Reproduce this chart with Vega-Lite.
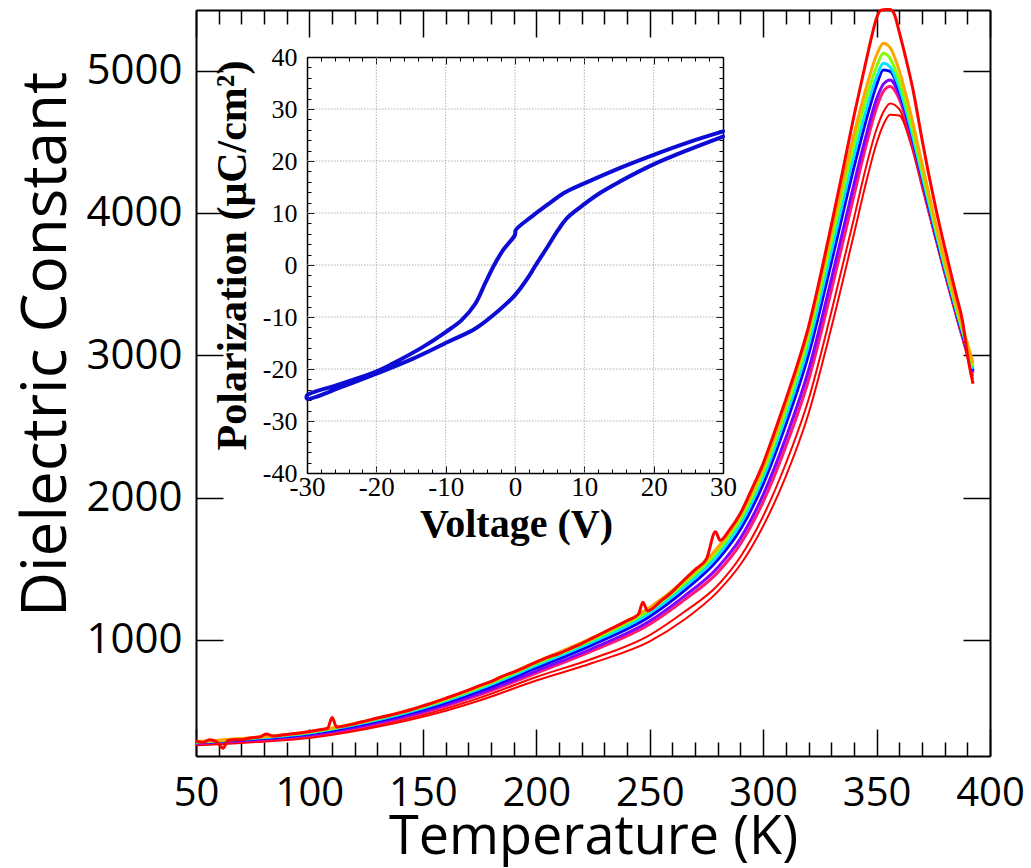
{
  "$schema": "https://vega.github.io/schema/vega-lite/v6.json",
  "width": 794,
  "height": 746,
  "autosize": "none",
  "padding": {"left": 196, "top": 10, "right": 41, "bottom": 112},
  "background": "white",
  "config": {
    "view": {"stroke": null},
    "axis": {"grid": false, "domainColor": "#000000", "tickColor": "#000000", "labelColor": "#000000", "titleColor": "#000000", "labelOverlap": false, "labelBound": false}
  },
  "datasets": {
    "main": [
      {"s":"r3","T":50,"e":260},{"s":"r3","T":75,"e":282},{"s":"r3","T":100,"e":312},{"s":"r3","T":125,"e":375},{"s":"r3","T":150,"e":460},{"s":"r3","T":175,"e":575},{"s":"r3","T":200,"e":715},{"s":"r3","T":225,"e":840},{"s":"r3","T":250,"e":990},{"s":"r3","T":265,"e":1140},{"s":"r3","T":280,"e":1340},{"s":"r3","T":290,"e":1530},{"s":"r3","T":300,"e":1800},{"s":"r3","T":310,"e":2150},{"s":"r3","T":320,"e":2590},{"s":"r3","T":330,"e":3190},{"s":"r3","T":340,"e":3850},{"s":"r3","T":345,"e":4190},{"s":"r3","T":350,"e":4490},{"s":"r3","T":353,"e":4620},{"s":"r3","T":356,"e":4690},{"s":"r3","T":360,"e":4685},{"s":"r3","T":365,"e":4490},{"s":"r3","T":370,"e":4185},{"s":"r3","T":375,"e":3875},{"s":"r3","T":380,"e":3570},{"s":"r3","T":385,"e":3275},{"s":"r3","T":390,"e":2990},{"s":"r3","T":392.5,"e":2830},
      {"s":"r2","T":50,"e":266},{"s":"r2","T":75,"e":288},{"s":"r2","T":100,"e":320},{"s":"r2","T":125,"e":385},{"s":"r2","T":150,"e":473},{"s":"r2","T":175,"e":593},{"s":"r2","T":200,"e":740},{"s":"r2","T":225,"e":870},{"s":"r2","T":250,"e":1035},{"s":"r2","T":265,"e":1195},{"s":"r2","T":280,"e":1385},{"s":"r2","T":290,"e":1585},{"s":"r2","T":300,"e":1870},{"s":"r2","T":310,"e":2240},{"s":"r2","T":320,"e":2690},{"s":"r2","T":330,"e":3300},{"s":"r2","T":340,"e":3960},{"s":"r2","T":345,"e":4300},{"s":"r2","T":350,"e":4590},{"s":"r2","T":353,"e":4710},{"s":"r2","T":356,"e":4770},{"s":"r2","T":360,"e":4730},{"s":"r2","T":365,"e":4510},{"s":"r2","T":370,"e":4200},{"s":"r2","T":375,"e":3885},{"s":"r2","T":380,"e":3580},{"s":"r2","T":385,"e":3285},{"s":"r2","T":390,"e":3005},{"s":"r2","T":392.5,"e":2855},
      {"s":"k","T":50,"e":272},{"s":"k","T":75,"e":295},{"s":"k","T":100,"e":329},{"s":"k","T":125,"e":396},{"s":"k","T":150,"e":488},{"s":"k","T":175,"e":614},{"s":"k","T":200,"e":768},{"s":"k","T":225,"e":925},{"s":"k","T":250,"e":1110},{"s":"k","T":265,"e":1278},{"s":"k","T":280,"e":1475},{"s":"k","T":290,"e":1675},{"s":"k","T":300,"e":1970},{"s":"k","T":310,"e":2360},{"s":"k","T":320,"e":2825},{"s":"k","T":330,"e":3450},{"s":"k","T":340,"e":4120},{"s":"k","T":345,"e":4450},{"s":"k","T":350,"e":4740},{"s":"k","T":353,"e":4855},{"s":"k","T":356,"e":4888},{"s":"k","T":360,"e":4800},{"s":"k","T":365,"e":4545},{"s":"k","T":370,"e":4225},{"s":"k","T":375,"e":3900},{"s":"k","T":380,"e":3590},{"s":"k","T":385,"e":3295},{"s":"k","T":390,"e":3015},{"s":"k","T":392.5,"e":2875},
      {"s":"p","T":50,"e":275},{"s":"p","T":75,"e":299},{"s":"p","T":100,"e":334},{"s":"p","T":125,"e":403},{"s":"p","T":150,"e":497},{"s":"p","T":175,"e":625},{"s":"p","T":200,"e":782},{"s":"p","T":225,"e":942},{"s":"p","T":250,"e":1133},{"s":"p","T":265,"e":1305},{"s":"p","T":280,"e":1510},{"s":"p","T":290,"e":1715},{"s":"p","T":300,"e":2020},{"s":"p","T":310,"e":2420},{"s":"p","T":320,"e":2895},{"s":"p","T":330,"e":3530},{"s":"p","T":340,"e":4200},{"s":"p","T":345,"e":4520},{"s":"p","T":350,"e":4800},{"s":"p","T":353,"e":4905},{"s":"p","T":356,"e":4935},{"s":"p","T":360,"e":4830},{"s":"p","T":365,"e":4565},{"s":"p","T":370,"e":4240},{"s":"p","T":375,"e":3910},{"s":"p","T":380,"e":3600},{"s":"p","T":385,"e":3305},{"s":"p","T":390,"e":3025},{"s":"p","T":392.5,"e":2885},
      {"s":"b","T":50,"e":279},{"s":"b","T":75,"e":304},{"s":"b","T":100,"e":341},{"s":"b","T":125,"e":413},{"s":"b","T":150,"e":511},{"s":"b","T":175,"e":643},{"s":"b","T":200,"e":804},{"s":"b","T":225,"e":968},{"s":"b","T":250,"e":1165},{"s":"b","T":265,"e":1343},{"s":"b","T":280,"e":1563},{"s":"b","T":290,"e":1778},{"s":"b","T":300,"e":2095},{"s":"b","T":310,"e":2515},{"s":"b","T":320,"e":3005},{"s":"b","T":330,"e":3650},{"s":"b","T":340,"e":4320},{"s":"b","T":345,"e":4630},{"s":"b","T":350,"e":4900},{"s":"b","T":353,"e":5005},{"s":"b","T":356,"e":4995},{"s":"b","T":360,"e":4860},{"s":"b","T":365,"e":4585},{"s":"b","T":370,"e":4255},{"s":"b","T":375,"e":3920},{"s":"b","T":380,"e":3610},{"s":"b","T":385,"e":3315},{"s":"b","T":390,"e":3035},{"s":"b","T":392.5,"e":2895},
      {"s":"c","T":50,"e":281},{"s":"c","T":75,"e":308},{"s":"c","T":100,"e":347},{"s":"c","T":125,"e":421},{"s":"c","T":150,"e":522},{"s":"c","T":175,"e":657},{"s":"c","T":200,"e":821},{"s":"c","T":225,"e":988},{"s":"c","T":250,"e":1190},{"s":"c","T":265,"e":1370},{"s":"c","T":280,"e":1595},{"s":"c","T":290,"e":1815},{"s":"c","T":300,"e":2140},{"s":"c","T":310,"e":2570},{"s":"c","T":320,"e":3070},{"s":"c","T":330,"e":3725},{"s":"c","T":340,"e":4400},{"s":"c","T":345,"e":4700},{"s":"c","T":350,"e":4955},{"s":"c","T":353,"e":5052},{"s":"c","T":356,"e":5025},{"s":"c","T":360,"e":4880},{"s":"c","T":365,"e":4600},{"s":"c","T":370,"e":4270},{"s":"c","T":375,"e":3935},{"s":"c","T":380,"e":3620},{"s":"c","T":385,"e":3325},{"s":"c","T":390,"e":3045},{"s":"c","T":392.5,"e":2905},
      {"s":"g","T":50,"e":283},{"s":"g","T":75,"e":312},{"s":"g","T":100,"e":352},{"s":"g","T":125,"e":428},{"s":"g","T":150,"e":530},{"s":"g","T":175,"e":668},{"s":"g","T":200,"e":835},{"s":"g","T":225,"e":1005},{"s":"g","T":250,"e":1210},{"s":"g","T":265,"e":1395},{"s":"g","T":280,"e":1625},{"s":"g","T":290,"e":1850},{"s":"g","T":300,"e":2180},{"s":"g","T":310,"e":2620},{"s":"g","T":320,"e":3130},{"s":"g","T":330,"e":3800},{"s":"g","T":340,"e":4480},{"s":"g","T":345,"e":4780},{"s":"g","T":350,"e":5030},{"s":"g","T":353,"e":5122},{"s":"g","T":356,"e":5085},{"s":"g","T":360,"e":4930},{"s":"g","T":365,"e":4640},{"s":"g","T":370,"e":4300},{"s":"g","T":375,"e":3960},{"s":"g","T":380,"e":3640},{"s":"g","T":385,"e":3340},{"s":"g","T":390,"e":3060},{"s":"g","T":392.5,"e":2920},
      {"s":"o","T":50,"e":286},{"s":"o","T":75,"e":315},{"s":"o","T":100,"e":356},{"s":"o","T":125,"e":432},{"s":"o","T":150,"e":536},{"s":"o","T":175,"e":676},{"s":"o","T":200,"e":846},{"s":"o","T":225,"e":1018},{"s":"o","T":250,"e":1228},{"s":"o","T":265,"e":1416},{"s":"o","T":280,"e":1650},{"s":"o","T":290,"e":1880},{"s":"o","T":300,"e":2215},{"s":"o","T":310,"e":2660},{"s":"o","T":320,"e":3180},{"s":"o","T":330,"e":3860},{"s":"o","T":340,"e":4550},{"s":"o","T":345,"e":4855},{"s":"o","T":350,"e":5110},{"s":"o","T":353,"e":5193},{"s":"o","T":356,"e":5160},{"s":"o","T":360,"e":5000},{"s":"o","T":365,"e":4700},{"s":"o","T":370,"e":4350},{"s":"o","T":375,"e":4000},{"s":"o","T":380,"e":3670},{"s":"o","T":385,"e":3370},{"s":"o","T":390,"e":3085},{"s":"o","T":392.5,"e":2945},
      {"s":"r1","T":50,"e":290},{"s":"r1","T":53,"e":280},{"s":"r1","T":56,"e":300},{"s":"r1","T":59,"e":285},{"s":"r1","T":62,"e":240},{"s":"r1","T":64,"e":292},{"s":"r1","T":67,"e":300},{"s":"r1","T":70,"e":300},{"s":"r1","T":74,"e":312},{"s":"r1","T":78,"e":318},{"s":"r1","T":81,"e":340},{"s":"r1","T":84,"e":325},{"s":"r1","T":88,"e":332},{"s":"r1","T":92,"e":340},{"s":"r1","T":96,"e":347},{"s":"r1","T":100,"e":357},{"s":"r1","T":104,"e":368},{"s":"r1","T":108,"e":380},{"s":"r1","T":110,"e":455},{"s":"r1","T":112,"e":388},{"s":"r1","T":116,"e":398},{"s":"r1","T":120,"e":412},{"s":"r1","T":125,"e":432},{"s":"r1","T":130,"e":452},{"s":"r1","T":135,"e":470},{"s":"r1","T":140,"e":490},{"s":"r1","T":145,"e":512},{"s":"r1","T":150,"e":537},{"s":"r1","T":155,"e":562},{"s":"r1","T":160,"e":590},{"s":"r1","T":165,"e":618},{"s":"r1","T":170,"e":648},{"s":"r1","T":175,"e":680},{"s":"r1","T":180,"e":708},{"s":"r1","T":185,"e":745},{"s":"r1","T":190,"e":775},{"s":"r1","T":195,"e":808},{"s":"r1","T":200,"e":845},{"s":"r1","T":205,"e":878},{"s":"r1","T":210,"e":905},{"s":"r1","T":215,"e":940},{"s":"r1","T":220,"e":975},{"s":"r1","T":225,"e":1015},{"s":"r1","T":230,"e":1055},{"s":"r1","T":235,"e":1095},{"s":"r1","T":240,"e":1135},{"s":"r1","T":245,"e":1180},{"s":"r1","T":247,"e":1265},{"s":"r1","T":249,"e":1205},{"s":"r1","T":255,"e":1275},{"s":"r1","T":260,"e":1340},{"s":"r1","T":265,"e":1420},{"s":"r1","T":270,"e":1495},{"s":"r1","T":275,"e":1570},{"s":"r1","T":279,"e":1760},{"s":"r1","T":281,"e":1700},{"s":"r1","T":285,"e":1770},{"s":"r1","T":290,"e":1890},{"s":"r1","T":295,"e":2060},{"s":"r1","T":300,"e":2240},{"s":"r1","T":305,"e":2460},{"s":"r1","T":310,"e":2690},{"s":"r1","T":315,"e":2930},{"s":"r1","T":320,"e":3200},{"s":"r1","T":325,"e":3540},{"s":"r1","T":330,"e":3910},{"s":"r1","T":335,"e":4290},{"s":"r1","T":340,"e":4680},{"s":"r1","T":345,"e":5040},{"s":"r1","T":348,"e":5250},{"s":"r1","T":350,"e":5370},{"s":"r1","T":352,"e":5425},{"s":"r1","T":354,"e":5430},{"s":"r1","T":356,"e":5430},{"s":"r1","T":358,"e":5390},{"s":"r1","T":360,"e":5270},{"s":"r1","T":363,"e":5080},{"s":"r1","T":366,"e":4870},{"s":"r1","T":370,"e":4520},{"s":"r1","T":373,"e":4270},{"s":"r1","T":376,"e":4040},{"s":"r1","T":380,"e":3760},{"s":"r1","T":385,"e":3430},{"s":"r1","T":388,"e":3230},{"s":"r1","T":390,"e":3010},{"s":"r1","T":392.5,"e":2800}
    ],
    "loop": [
      {"i":1,"V":30,"P":25.7},{"i":2,"V":25,"P":23.6},{"i":3,"V":20,"P":21.2},{"i":4,"V":15,"P":18.6},{"i":5,"V":10,"P":15.7},{"i":6,"V":7,"P":13.8},{"i":7,"V":5,"P":11.9},{"i":8,"V":2.5,"P":9.4},{"i":9,"V":0.1,"P":6.7},{"i":10,"V":0,"P":5.8},{"i":11,"V":-1.7,"P":2.9},{"i":12,"V":-3,"P":0},{"i":13,"V":-4.3,"P":-3.5},{"i":14,"V":-5.7,"P":-7.4},{"i":15,"V":-7.7,"P":-10.6},{"i":16,"V":-10,"P":-12.9},{"i":17,"V":-13.2,"P":-15.7},{"i":18,"V":-17.7,"P":-19},{"i":19,"V":-20.2,"P":-20.6},{"i":20,"V":-25.7,"P":-23.1},{"i":21,"V":-30,"P":-25.1},{"i":22,"V":-30,"P":-25.7},
      {"i":23,"V":-24.7,"P":-23.3},{"i":24,"V":-20,"P":-20.9},{"i":25,"V":-14.7,"P":-18},{"i":26,"V":-9.7,"P":-14.8},{"i":27,"V":-5.7,"P":-12.2},{"i":28,"V":-2.3,"P":-8.7},{"i":29,"V":0,"P":-5.8},{"i":30,"V":2,"P":-2.2},{"i":31,"V":3,"P":0},{"i":32,"V":4.7,"P":3.5},{"i":33,"V":6.2,"P":6.7},{"i":34,"V":7.5,"P":9},{"i":35,"V":9.2,"P":10.9},{"i":36,"V":12.2,"P":13.8},{"i":37,"V":15.2,"P":16.1},{"i":38,"V":19.9,"P":19.3},{"i":39,"V":25.1,"P":22.2},{"i":40,"V":30,"P":24.7}
    ],
    "gx": [{"v":-20},{"v":-10},{"v":0},{"v":10},{"v":20}],
    "gy": [{"v":-30},{"v":-20},{"v":-10},{"v":0},{"v":10},{"v":20},{"v":30}]
  },
  "layer": [
    {
      "data": {"name": "main"},
      "mark": {"type": "line", "opacity": 0},
      "encoding": {
        "x": {"field": "T", "type": "quantitative", "scale": {"domain": [50, 400], "nice": false, "zero": false},
          "axis": {"orient": "top", "title": null, "labels": false, "values": [50,60,70,80,90,100,110,120,130,140,150,160,170,180,190,200,210,220,230,240,250,260,270,280,290,300,310,320,330,340,350,360,370,380,390,400],
            "tickSize": {"condition": {"test": "datum.value % 50 === 0", "value": -27}, "value": -14}, "tickWidth": 1.5, "domainWidth": 2}},
        "y": {"field": "e", "type": "quantitative", "scale": {"domain": [185, 5426], "nice": false, "zero": false},
          "axis": {"orient": "right", "title": null, "labels": false, "values": [1000,2000,3000,4000,5000], "tickSize": -27, "tickWidth": 1.5, "domainWidth": 2}}
      }
    },
    {
      "data": {"name": "main"},
      "transform": [{"filter": "datum.s === 'r3' || datum.s === 'r2'"}],
      "mark": {"type": "line", "color": "#ff0000", "strokeWidth": 2, "interpolate": "monotone"},
      "encoding": {
        "x": {"field": "T", "type": "quantitative", "scale": {"domain": [50, 400], "nice": false, "zero": false}, "axis": null},
        "y": {"field": "e", "type": "quantitative", "scale": {"domain": [185, 5426], "nice": false, "zero": false}, "axis": null},
        "detail": {"field": "s", "type": "nominal"}
      }
    },
    {
      "data": {"name": "main"},
      "transform": [{"filter": "datum.s !== 'r3' && datum.s !== 'r2'"}],
      "mark": {"type": "line", "strokeWidth": 3, "interpolate": "monotone"},
      "encoding": {
        "x": {"field": "T", "type": "quantitative", "scale": {"domain": [50, 400], "nice": false, "zero": false},
          "axis": {"orient": "bottom", "values": [50,60,70,80,90,100,110,120,130,140,150,160,170,180,190,200,210,220,230,240,250,260,270,280,290,300,310,320,330,340,350,360,370,380,390,400],
            "labelExpr": "datum.value % 50 === 0 ? '' + datum.value : ''", "labelFlush": false,
            "labelFont": "Open Sans", "labelFontSize": 40, "labelPadding": 44,
            "tickSize": {"condition": {"test": "datum.value % 50 === 0", "value": -27}, "value": -14}, "tickWidth": 1.5, "domainWidth": 2,
            "title": "Temperature (K)", "titleFont": "Open Sans", "titleFontSize": 54, "titleFontWeight": "normal",
            "titleX": 397, "titleY": 97, "titleBaseline": "alphabetic", "titleAlign": "center"}},
        "y": {"field": "e", "type": "quantitative", "scale": {"domain": [185, 5426], "nice": false, "zero": false},
          "axis": {"orient": "left", "values": [1000,2000,3000,4000,5000], "format": "d",
            "labelFont": "Open Sans", "labelFontSize": 42, "labelPadding": 41,
            "tickSize": -27, "tickWidth": 1.5, "domainWidth": 2,
            "title": "Dielectric Constant", "titleFont": "Open Sans", "titleFontSize": 62, "titleFontWeight": "normal",
            "titleX": -150, "titleY": 334, "titleAngle": -90, "titleBaseline": "middle", "titleAlign": "center"}},
        "color": {"field": "s", "type": "nominal", "legend": null,
          "scale": {"domain": ["k","p","b","c","g","o","r1"], "range": ["#ff1a75","#8000ff","#0000ff","#00e5ff","#80ff00","#ffa500","#ff0000"]}}
      }
    },
    {
      "data": {"name": "gx"},
      "mark": {"type": "rule", "stroke": "#a0a0a0", "strokeWidth": 0.8, "strokeDash": [1.5, 1.5]},
      "encoding": {
        "x": {"field": "v", "type": "quantitative", "scale": {"domain": [-30, 30], "range": [111, 527], "nice": false, "zero": false},
          "axis": {"orient": "top", "offset": -47, "title": null, "labels": false,
            "values": [-30,-28,-26,-24,-22,-20,-18,-16,-14,-12,-10,-8,-6,-4,-2,0,2,4,6,8,10,12,14,16,18,20,22,24,26,28,30],
            "tickSize": {"condition": {"test": "datum.value % 10 === 0", "value": -7}, "value": -4}, "tickWidth": 1, "domainWidth": 1.5}},
        "y": {"datum": -40, "type": "quantitative", "scale": {"domain": [-40, 40], "range": [463, 47], "nice": false, "zero": false},
          "axis": {"orient": "right", "offset": -267, "title": null, "labels": false,
            "values": [-40,-38,-36,-34,-32,-30,-28,-26,-24,-22,-20,-18,-16,-14,-12,-10,-8,-6,-4,-2,0,2,4,6,8,10,12,14,16,18,20,22,24,26,28,30,32,34,36,38,40],
            "tickSize": {"condition": {"test": "datum.value % 10 === 0", "value": -7}, "value": -4}, "tickWidth": 1, "domainWidth": 1.5}},
        "y2": {"datum": 40}
      }
    },
    {
      "data": {"name": "gy"},
      "mark": {"type": "rule", "stroke": "#a0a0a0", "strokeWidth": 0.8, "strokeDash": [1.5, 1.5]},
      "encoding": {
        "y": {"field": "v", "type": "quantitative", "scale": {"domain": [-40, 40], "range": [463, 47], "nice": false, "zero": false}, "axis": null},
        "x": {"datum": -30, "type": "quantitative", "scale": {"domain": [-30, 30], "range": [111, 527], "nice": false, "zero": false}, "axis": null},
        "x2": {"datum": 30}
      }
    },
    {
      "data": {"name": "loop"},
      "mark": {"type": "line", "color": "#0c0cd4", "strokeWidth": 4, "strokeCap": "round", "strokeJoin": "round", "interpolate": "catmull-rom"},
      "encoding": {
        "x": {"field": "V", "type": "quantitative", "scale": {"domain": [-30, 30], "range": [111, 527], "nice": false, "zero": false},
          "axis": {"orient": "bottom", "offset": -283,
            "values": [-30,-28,-26,-24,-22,-20,-18,-16,-14,-12,-10,-8,-6,-4,-2,0,2,4,6,8,10,12,14,16,18,20,22,24,26,28,30],
            "labelExpr": "datum.value % 10 === 0 ? '' + datum.value : ''", "labelFlush": false,
            "labelFont": "Liberation Serif", "labelFontSize": 27, "labelPadding": 8,
            "tickSize": {"condition": {"test": "datum.value % 10 === 0", "value": -7}, "value": -4}, "tickWidth": 1, "domainWidth": 1.5,
            "title": "Voltage (V)", "titleFont": "Liberation Serif", "titleFontSize": 40, "titleFontWeight": "bold",
            "titleX": 320, "titleY": 63, "titleBaseline": "alphabetic", "titleAlign": "center"}},
        "y": {"field": "P", "type": "quantitative", "scale": {"domain": [-40, 40], "range": [463, 47], "nice": false, "zero": false},
          "axis": {"orient": "left", "offset": -111,
            "values": [-40,-38,-36,-34,-32,-30,-28,-26,-24,-22,-20,-18,-16,-14,-12,-10,-8,-6,-4,-2,0,2,4,6,8,10,12,14,16,18,20,22,24,26,28,30,32,34,36,38,40],
            "labelExpr": "datum.value % 10 === 0 ? '' + datum.value : ''",
            "labelFont": "Liberation Serif", "labelFontSize": 26, "labelPadding": 17,
            "tickSize": {"condition": {"test": "datum.value % 10 === 0", "value": -7}, "value": -4}, "tickWidth": 1, "domainWidth": 1.5,
            "title": "Polarization (μC/cm²)", "titleFont": "Liberation Serif", "titleFontSize": 42, "titleFontWeight": "bold",
            "titleX": -75, "titleY": 245, "titleAngle": -90, "titleBaseline": "middle", "titleAlign": "center"}},
        "order": {"field": "i", "type": "quantitative"}
      }
    }
  ],
  "resolve": {
    "scale": {"x": "independent", "y": "independent", "color": "independent"},
    "axis": {"x": "independent", "y": "independent"}
  }
}
